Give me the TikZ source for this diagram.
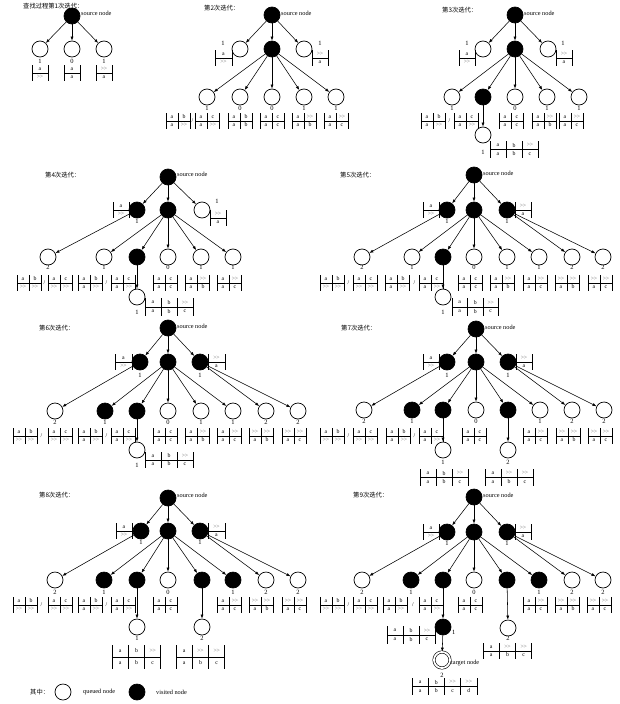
\documentclass[tikz,border=0pt]{standalone}
\usepackage{fontspec}
\setmainfont{Liberation Serif}
\newfontfamily\cjk{Noto Sans CJK SC}
\usetikzlibrary{arrows.meta}
\newcounter{tbc}
\newcommand\G{\textcolor{black!60}{>\kern-0.2pt>}}
\tikzset{
  qn/.style={circle, draw, line width=0.7pt, minimum size=16pt, inner sep=0pt, fill=white},
  vn/.style={circle, draw, line width=0.7pt, fill=black, minimum size=16pt, inner sep=0pt},
  tg/.style={circle, draw, line width=0.6pt, double, double distance=1.8pt, minimum size=16pt, inner sep=0pt},
  arr/.style={-{Latex[length=4pt,width=3pt]}, line width=0.55pt},
  lbl/.style={font=\fontsize{6.5}{6.5}\selectfont, inner sep=0pt},
  tt/.style={font=\fontsize{5.8}{5.8}\selectfont, inner sep=0pt},
  sl/.style={font=\fontsize{6.3}{6.3}\selectfont, inner sep=0pt, anchor=west},
  tl/.style={font=\cjk\fontsize{6.3}{7}\selectfont, inner sep=0pt, anchor=west},
  bar/.style={line width=0.9pt},
  hl/.style={line width=0.5pt},
}
% #1 x, #2 y, #3 cell width, #4 height, #5 list top/bottom
\newcommand\Tab[5]{%
  \stepcounter{tbc}%
  \foreach \tp/\bt [count=\i] in {#5} {
    \draw[hl] ({#1+(\i-1)*#3},{#2+#4/2}) -- ({#1+\i*#3},{#2+#4/2});
    \draw[bar] ({#1+\i*#3},#2) -- ({#1+\i*#3},{#2+#4});
    \node[tt] (tb\arabic{tbc}t\i) at ({#1+(\i-0.5)*#3},{#2+#4/4}) {\tp};
    \node[tt] (tb\arabic{tbc}b\i) at ({#1+(\i-0.5)*#3},{#2+3*#4/4}) {\bt};
  }
  \draw[bar] (#1,#2) -- (#1,{#2+#4});
}
\newcommand\Sl[3]{\node[tt] (#1) at (#2,#3) {/};}
\begin{document}
\begin{tikzpicture}[x=1pt,y=-1pt]
\useasboundingbox (0,0) rectangle (620,704);

% ===== Panel 1 =====
\node[tl] (p1t) at (23,6) {查找过程第1次迭代：};
\node[vn] (p1s) at (72,16) {};
\node[sl] (p1sl) at (81,13) {source node};
\node[qn] (p1a) at (40,49) {};
\node[qn] (p1b) at (72,49) {};
\node[qn] (p1c) at (104,49) {};
\foreach \n in {a,b,c} \draw[arr] (p1s) -- (p1\n);
\node[lbl] (p1la) at (40,61) {1};
\node[lbl] (p1lb) at (72,61) {0};
\node[lbl] (p1lc) at (104,61) {1};
\Tab{32}{65}{16}{16}{a/\G}
\Tab{64}{65}{16}{16}{a/a}
\Tab{96}{65}{16}{16}{\G/a}

% ===== Panel 2 =====
\node[tl] (p2t) at (204,8) {第2次迭代：};
\node[vn] (p2s) at (272,15) {};
\node[sl] (p2sl) at (281,13) {source node};
\node[qn] (p2a) at (240,49) {};
\node[vn] (p2b) at (272,49) {};
\node[qn] (p2c) at (304,49) {};
\foreach \n in {a,b,c} \draw[arr] (p2s) -- (p2\n);
\node[lbl] (p2la) at (223,43) {1};
\node[lbl] (p2lc) at (320,43) {1};
\Tab{215}{50}{17}{16}{a/\G}
\Tab{312}{50}{16}{16}{\G/a}
\node[qn] (p2d) at (207,97) {};
\node[qn] (p2e) at (240,97) {};
\node[qn] (p2f) at (272,97) {};
\node[qn] (p2g) at (304,97) {};
\node[qn] (p2h) at (336,97) {};
\foreach \n in {d,e,f,g,h} \draw[arr] (p2b) -- (p2\n);
\node[lbl] (p2ld) at (207,108) {1};
\node[lbl] (p2le) at (240,108) {0};
\node[lbl] (p2lf) at (272,108) {0};
\node[lbl] (p2lg) at (304,108) {1};
\node[lbl] (p2lh) at (336,108) {1};
\Tab{166}{113}{12}{16}{a/a,b/\G}
\Sl{p2s1}{192.5}{121}
\Tab{195}{113}{12}{16}{a/a,c/\G}
\Tab{228}{113}{12}{16}{a/a,b/b}
\Tab{260}{113}{12}{16}{a/a,c/c}
\Tab{292}{113}{12}{16}{a/a,\G/b}
\Tab{324}{113}{12}{16}{a/a,\G/c}

% ===== Panel 3 =====
\node[tl] (p3t) at (442,10) {第3次迭代：};
\node[vn] (p3s) at (515,15) {};
\node[sl] (p3sl) at (524,13) {source node};
\node[qn] (p3a) at (483,49) {};
\node[vn] (p3b) at (515,49) {};
\node[qn] (p3c) at (548,49) {};
\foreach \n in {a,b,c} \draw[arr] (p3s) -- (p3\n);
\node[lbl] (p3la) at (467,43) {1};
\node[lbl] (p3lc) at (563,43) {1};
\Tab{459}{50}{16}{16}{a/\G}
\Tab{556}{50}{16}{16}{\G/a}
\node[qn] (p3d) at (452,97) {};
\node[vn] (p3e) at (483,97) {};
\node[qn] (p3f) at (515,97) {};
\node[qn] (p3g) at (547,97) {};
\node[qn] (p3h) at (579,97) {};
\foreach \n in {d,e,f,g,h} \draw[arr] (p3b) -- (p3\n);
\node[lbl] (p3ld) at (452,108) {1};
\node[lbl] (p3lf) at (515,108) {0};
\node[lbl] (p3lg) at (547,108) {1};
\node[lbl] (p3lh) at (579,108) {1};
\Tab{421}{113}{12}{16}{a/a,b/\G}
\Sl{p3s1}{449.5}{121}
\Tab{454}{113}{12}{16}{a/a,c/\G}
\Tab{499}{113}{12}{16}{a/a,c/c}
\Tab{532}{113}{12}{16}{a/a,\G/b}
\Tab{559}{113}{12}{16}{a/a,\G/c}
\node[qn] (p3i) at (483,135) {};
\draw[arr] (p3e) -- (p3i);
\node[lbl] (p3li) at (483,152) {1};
\Tab{490}{141}{16}{17}{a/a,b/b,\G/c}

% ===== Panel 4 =====
\node[tl] (p4t) at (45,175) {第4次迭代：};
\node[vn] (p4s) at (168,177) {};
\node[sl] (p4sl) at (177,174) {source node};
\node[vn] (p4a) at (137,210) {};
\node[vn] (p4b) at (168,210) {};
\node[qn] (p4c) at (202,210) {};
\foreach \n in {a,b,c} \draw[arr] (p4s) -- (p4\n);
\Tab{113}{202}{16}{16}{a/\G}
\node[lbl] (p4la) at (137,221) {1};
\node[lbl] (p4lc) at (217,201) {1};
\Tab{210}{210}{16}{16}{\G/a}
\node[qn] (p4d) at (48,257) {};
\node[qn] (p4e) at (104,257) {};
\node[vn] (p4f) at (137,257) {};
\node[qn] (p4g) at (168,257) {};
\node[qn] (p4h) at (201,257) {};
\node[qn] (p4i) at (233,257) {};
\draw[arr] (p4a) -- (p4d);
\foreach \n in {e,f,g,h,i} \draw[arr] (p4b) -- (p4\n);
\node[lbl] (p4ld) at (48,267) {2};
\node[lbl] (p4le) at (104,267) {1};
\node[lbl] (p4lg) at (168,267) {0};
\node[lbl] (p4lh) at (201,267) {1};
\node[lbl] (p4li) at (233,267) {1};
\Tab{17}{275}{12}{16}{a/\G,b/\G}
\Sl{p4s1}{44.5}{283}
\Tab{48}{275}{12}{16}{a/\G,c/\G}
\Tab{78}{275}{12}{16}{a/a,b/\G}
\Sl{p4s2}{106.5}{283}
\Tab{111}{275}{12}{16}{a/a,c/\G}
\Tab{153}{275}{12}{16}{a/a,c/c}
\Tab{185}{275}{12}{16}{a/a,\G/b}
\Tab{217}{275}{12}{16}{a/a,\G/c}
\node[qn] (p4j) at (137,297) {};
\draw[arr] (p4f) -- (p4j);
\node[lbl] (p4lj) at (137,312) {1};
\Tab{145}{298}{16}{18}{a/a,b/b,\G/c}

% ===== Panel 5 =====
\node[tl] (p5t) at (340,175) {第5次迭代：};
\node[vn] (p5s) at (474,175) {};
\node[sl] (p5sl) at (483,173) {source node};
\node[vn] (p5a) at (447,210) {};
\node[vn] (p5b) at (474,210) {};
\node[vn] (p5c) at (507,210) {};
\foreach \n in {a,b,c} \draw[arr] (p5s) -- (p5\n);
\Tab{423}{202}{16}{16}{a/\G}
\Tab{515}{202}{16}{16}{\G/a}
\node[lbl] (p5la) at (447,221) {1};
\node[lbl] (p5lc) at (507,221) {1};
\node[qn] (p5d) at (362,257) {};
\node[qn] (p5e) at (412,257) {};
\node[vn] (p5f) at (443,257) {};
\node[qn] (p5g) at (474,257) {};
\node[qn] (p5h) at (507,257) {};
\node[qn] (p5i) at (539,257) {};
\node[qn] (p5j) at (572,257) {};
\node[qn] (p5k) at (603,257) {};
\draw[arr] (p5a) -- (p5d);
\foreach \n in {e,f,g,h,i} \draw[arr] (p5b) -- (p5\n);
\foreach \n in {j,k} \draw[arr] (p5c) -- (p5\n);
\node[lbl] (p5ld) at (362,267) {2};
\node[lbl] (p5le) at (412,267) {1};
\node[lbl] (p5lg) at (474,267) {0};
\node[lbl] (p5lh) at (507,267) {1};
\node[lbl] (p5li) at (539,267) {1};
\node[lbl] (p5lj) at (572,267) {2};
\node[lbl] (p5lk) at (603,267) {2};
\Tab{320}{275}{12}{16}{a/\G,b/\G}
\Sl{p5s1}{348.5}{283}
\Tab{353}{275}{12}{16}{a/\G,c/\G}
\Tab{385}{275}{12}{16}{a/a,b/\G}
\Sl{p5s2}{414.5}{283}
\Tab{419}{275}{12}{16}{a/a,c/\G}
\Tab{458}{275}{12}{16}{a/a,c/c}
\Tab{490}{275}{12}{16}{a/a,\G/b}
\Tab{523}{275}{12}{16}{a/a,\G/c}
\Tab{555}{275}{12}{16}{\G/a,\G/b}
\Tab{588}{275}{12}{16}{\G/a,\G/c}
\node[qn] (p5m) at (443,297) {};
\draw[arr] (p5f) -- (p5m);
\node[lbl] (p5lm) at (443,312) {1};
\Tab{452}{298}{15.5}{18}{a/a,b/b,\G/c}

% ===== Panel 6 =====
\node[tl] (p6t) at (39,328) {第6次迭代：};
\node[vn] (p6s) at (168,328) {};
\node[sl] (p6sl) at (177,326) {source node};
\node[vn] (p6a) at (140,362) {};
\node[vn] (p6b) at (168,362) {};
\node[vn] (p6c) at (200,362) {};
\foreach \n in {a,b,c} \draw[arr] (p6s) -- (p6\n);
\Tab{115}{354}{17}{16}{a/\G}
\Tab{208}{354}{17}{16}{\G/a}
\node[lbl] (p6la) at (140,375) {1};
\node[lbl] (p6lc) at (200,375) {1};
\node[qn] (p6d) at (55,411) {};
\node[vn] (p6e) at (105,411) {};
\node[vn] (p6f) at (137,411) {};
\node[qn] (p6g) at (168,411) {};
\node[qn] (p6h) at (201,411) {};
\node[qn] (p6i) at (233,411) {};
\node[qn] (p6j) at (266,411) {};
\node[qn] (p6k) at (298,411) {};
\draw[arr] (p6a) -- (p6d);
\foreach \n in {e,f,g,h,i} \draw[arr] (p6b) -- (p6\n);
\foreach \n in {j,k} \draw[arr] (p6c) -- (p6\n);
\node[lbl] (p6ld) at (55,422) {2};
\node[lbl] (p6le) at (105,422) {1};
\node[lbl] (p6lg) at (168,422) {0};
\node[lbl] (p6lh) at (201,422) {1};
\node[lbl] (p6li) at (233,422) {1};
\node[lbl] (p6lj) at (266,422) {2};
\node[lbl] (p6lk) at (298,422) {2};
\Tab{13}{428}{12}{16}{a/\G,b/\G}
\Sl{p6s1}{41.5}{436}
\Tab{48}{428}{12}{16}{a/\G,c/\G}
\Tab{78}{428}{12}{16}{a/a,b/\G}
\Sl{p6s2}{106.5}{436}
\Tab{111}{428}{12}{16}{a/a,c/\G}
\Tab{153}{428}{12}{16}{a/a,c/c}
\Tab{185}{428}{12}{16}{a/a,\G/b}
\Tab{217}{428}{12}{16}{a/a,\G/c}
\Tab{249}{428}{12}{16}{\G/a,\G/b}
\Tab{282}{428}{12}{16}{\G/a,\G/c}
\node[qn] (p6m) at (137,450) {};
\draw[arr] (p6f) -- (p6m);
\node[lbl] (p6lm) at (137,465) {1};
\Tab{145}{452}{16}{16}{a/a,b/b,\G/c}

% ===== Panel 7 =====
\node[tl] (p7t) at (341,328) {第7次迭代：};
\node[vn] (p7s) at (476,329) {};
\node[sl] (p7sl) at (485,327) {source node};
\node[vn] (p7a) at (447,362) {};
\node[vn] (p7b) at (476,362) {};
\node[vn] (p7c) at (508,362) {};
\foreach \n in {a,b,c} \draw[arr] (p7s) -- (p7\n);
\Tab{423}{354}{16}{16}{a/\G}
\Tab{516}{354}{16}{16}{\G/a}
\node[lbl] (p7la) at (447,375) {1};
\node[lbl] (p7lc) at (508,375) {1};
\node[qn] (p7d) at (364,410) {};
\node[vn] (p7e) at (412,410) {};
\node[vn] (p7f) at (443,410) {};
\node[qn] (p7g) at (476,410) {};
\node[vn] (p7h) at (508,410) {};
\node[qn] (p7i) at (540,410) {};
\node[qn] (p7j) at (572,410) {};
\node[qn] (p7k) at (604,410) {};
\draw[arr] (p7a) -- (p7d);
\foreach \n in {e,f,g,h,i} \draw[arr] (p7b) -- (p7\n);
\foreach \n in {j,k} \draw[arr] (p7c) -- (p7\n);
\node[lbl] (p7ld) at (364,421) {2};
\node[lbl] (p7le) at (412,421) {1};
\node[lbl] (p7lg) at (476,421) {0};
\node[lbl] (p7li) at (540,421) {1};
\node[lbl] (p7lj) at (572,421) {2};
\node[lbl] (p7lk) at (604,421) {2};
\Tab{320}{428}{12}{16}{a/\G,b/\G}
\Sl{p7s1}{348.5}{436}
\Tab{353}{428}{12}{16}{a/\G,c/\G}
\Tab{386}{428}{12}{16}{a/a,b/\G}
\Sl{p7s2}{414.5}{436}
\Tab{419}{428}{12}{16}{a/a,c/\G}
\Tab{462}{428}{12}{16}{a/a,c/c}
\Tab{523}{428}{12}{16}{a/a,\G/c}
\Tab{556}{428}{12}{16}{\G/a,\G/b}
\Tab{588}{428}{12}{16}{\G/a,\G/c}
\node[qn] (p7m) at (443,450) {};
\node[qn] (p7n) at (508,450) {};
\draw[arr] (p7f) -- (p7m);
\draw[arr] (p7h) -- (p7n);
\node[lbl] (p7lm) at (443,462) {1};
\node[lbl] (p7ln) at (508,462) {2};
\Tab{420}{469}{16}{17}{a/a,b/b,\G/c}
\Tab{485}{469}{16}{17}{a/a,\G/b,\G/c}

% ===== Panel 8 =====
\node[tl] (p8t) at (39,495) {第8次迭代：};
\node[vn] (p8s) at (168,498) {};
\node[sl] (p8sl) at (177,495) {source node};
\node[vn] (p8a) at (141,531) {};
\node[vn] (p8b) at (168,531) {};
\node[vn] (p8c) at (200,531) {};
\foreach \n in {a,b,c} \draw[arr] (p8s) -- (p8\n);
\Tab{116}{523}{16}{16}{a/\G}
\Tab{208}{523}{17}{16}{\G/a}
\node[lbl] (p8la) at (141,542) {1};
\node[lbl] (p8lc) at (200,542) {1};
\node[qn] (p8d) at (55,580) {};
\node[vn] (p8e) at (104,580) {};
\node[vn] (p8f) at (137,580) {};
\node[qn] (p8g) at (168,580) {};
\node[vn] (p8h) at (202,580) {};
\node[vn] (p8i) at (233,580) {};
\node[qn] (p8j) at (266,580) {};
\node[qn] (p8k) at (298,580) {};
\draw[arr] (p8a) -- (p8d);
\foreach \n in {e,f,g,h,i} \draw[arr] (p8b) -- (p8\n);
\foreach \n in {j,k} \draw[arr] (p8c) -- (p8\n);
\node[lbl] (p8ld) at (55,592) {2};
\node[lbl] (p8le) at (104,592) {1};
\node[lbl] (p8lg) at (168,592) {0};
\node[lbl] (p8li) at (233,592) {1};
\node[lbl] (p8lj) at (266,592) {2};
\node[lbl] (p8lk) at (298,592) {2};
\Tab{13}{597}{12}{16}{a/\G,b/\G}
\Sl{p8s1}{41.5}{605}
\Tab{48}{597}{12}{16}{a/\G,c/\G}
\Tab{78}{597}{12}{16}{a/a,b/\G}
\Sl{p8s2}{106.5}{605}
\Tab{111}{597}{12}{16}{a/a,c/\G}
\Tab{153}{597}{12}{16}{a/a,c/c}
\Tab{217}{597}{12}{16}{a/a,\G/c}
\Tab{249}{597}{12}{16}{\G/a,\G/b}
\Tab{282}{597}{12}{16}{\G/a,\G/c}
\node[qn] (p8m) at (137,627) {};
\node[qn] (p8n) at (202,627) {};
\draw[arr] (p8f) -- (p8m);
\draw[arr] (p8h) -- (p8n);
\node[lbl] (p8lm) at (137,638) {1};
\node[lbl] (p8ln) at (202,638) {2};
\Tab{112}{645}{16.3}{24}{a/a,b/b,\G/c}
\Tab{176}{645}{16.3}{24}{a/a,\G/b,\G/c}

% ===== Panel 9 =====
\node[tl] (p9t) at (353,495) {第9次迭代：};
\node[vn] (p9s) at (474,497) {};
\node[sl] (p9sl) at (483,495) {source node};
\node[vn] (p9a) at (447,532) {};
\node[vn] (p9b) at (474,532) {};
\node[vn] (p9c) at (507,532) {};
\foreach \n in {a,b,c} \draw[arr] (p9s) -- (p9\n);
\Tab{423}{524}{16}{16}{a/\G}
\Tab{515}{524}{16}{16}{\G/a}
\node[lbl] (p9la) at (447,543) {1};
\node[lbl] (p9lc) at (507,543) {1};
\node[qn] (p9d) at (362,580) {};
\node[vn] (p9e) at (411,580) {};
\node[vn] (p9f) at (443,580) {};
\node[qn] (p9g) at (474,580) {};
\node[vn] (p9h) at (507,580) {};
\node[vn] (p9i) at (539,580) {};
\node[qn] (p9j) at (572,580) {};
\node[qn] (p9k) at (603,580) {};
\draw[arr] (p9a) -- (p9d);
\foreach \n in {e,f,g,h,i} \draw[arr] (p9b) -- (p9\n);
\foreach \n in {j,k} \draw[arr] (p9c) -- (p9\n);
\node[lbl] (p9ld) at (362,592) {2};
\node[lbl] (p9le) at (411,592) {1};
\node[lbl] (p9lg) at (474,592) {0};
\node[lbl] (p9li) at (539,592) {1};
\node[lbl] (p9lj) at (572,592) {2};
\node[lbl] (p9lk) at (603,592) {2};
\Tab{320}{597}{12}{16}{a/\G,b/\G}
\Sl{p9s1}{348.5}{605}
\Tab{353}{597}{12}{16}{a/\G,c/\G}
\Tab{383}{597}{12}{16}{a/a,b/\G}
\Sl{p9s2}{413}{605}
\Tab{419}{597}{12}{16}{a/a,c/\G}
\Tab{458}{597}{12}{16}{a/a,c/c}
\Tab{523}{597}{12}{16}{a/a,\G/c}
\Tab{555}{597}{12}{16}{\G/a,\G/b}
\Tab{587}{597}{12}{16}{\G/a,\G/c}
\node[vn] (p9m) at (443,627) {};
\node[qn] (p9n) at (508,628) {};
\draw[arr] (p9f) -- (p9m);
\draw[arr] (p9h) -- (p9n);
\node[lbl,anchor=west] (p9lm) at (452,632) {1};
\node[lbl] (p9ln) at (508,638) {2};
\Tab{387}{626}{16}{18}{a/a,b/b,\G/c}
\Tab{483}{643}{16.3}{16}{a/a,\G/b,\G/c}
\node[tg] (p9t2) at (442,660) {};
\draw[arr] (p9m) -- (p9t2);
\node[sl] (p9tl) at (451,663) {target node};
\node[lbl] (p9lt) at (442,675) {2};
\Tab{412}{678}{16.25}{17}{a/a,b/b,\G/c,\G/d}

% ===== Legend =====
\node[tl] (lgt) at (30,692) {其中：};
\node[qn] (lgq) at (63,692) {};
\node[sl] (lgql) at (83,692) {queued node};
\node[vn] (lgv) at (137,692) {};
\node[sl] (lgvl) at (156,692) {visited node};
\end{tikzpicture}
\end{document}
